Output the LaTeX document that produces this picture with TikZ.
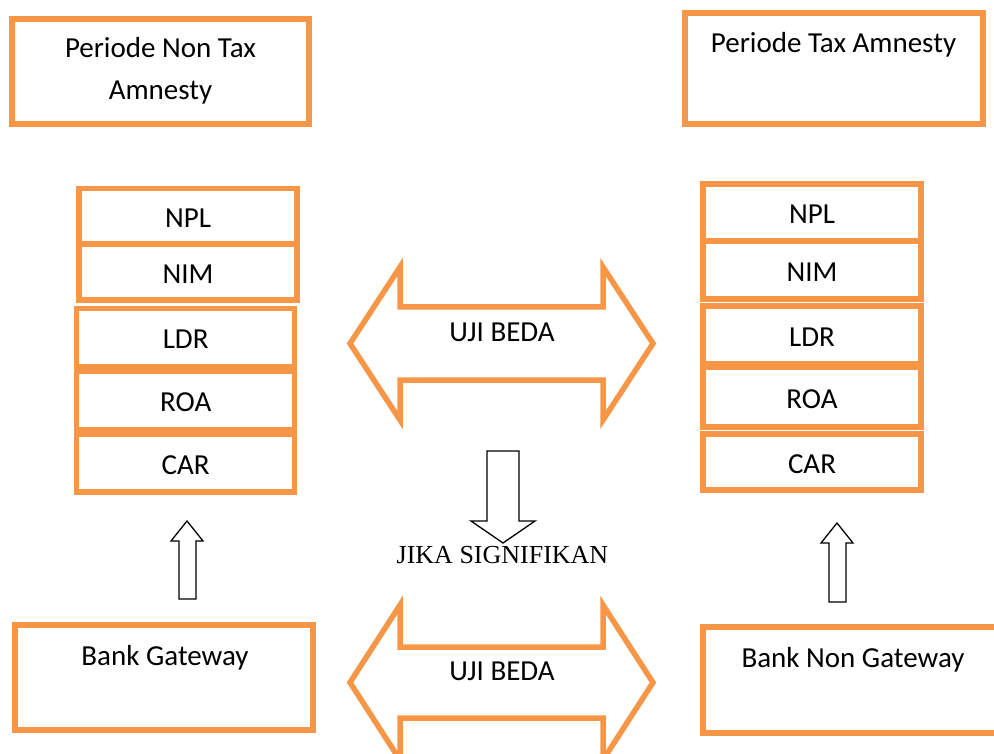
\documentclass[tikz,border=0pt]{standalone}
\usepackage{fontspec}
\setmainfont{Carlito}
\newfontfamily\jikafont{Liberation Serif}
\usepackage{tikz}
\usetikzlibrary{positioning,calc}
\definecolor{taxorange}{HTML}{F79646}

\begin{document}
\begin{tikzpicture}[x=1pt,y=-1pt,
  box/.style={draw=taxorange,line width=5.5pt,inner sep=0pt,outer sep=0pt,font=\fontsize{29}{42}\selectfont,
    text height=22.7pt,text depth=0pt},
  lbl/.style={font=\fontsize{29}{42}\selectfont,inner sep=0pt,anchor=base},
  bigarrow/.style={draw=taxorange,line width=5.5pt,fill=white},
  blockarrow/.style={draw=black,line width=1.3pt,fill=white}]
% page frame; lower double arrow and right bottom box run past it
\useasboundingbox (0,0) rectangle (994,754);
\clip (0,0) rectangle (994,754);
% period boxes
\node[box,minimum width=297,minimum height=105] (nontax) at (160.5,71.5) {};
\node[lbl,align=center] (nontaxtxt) at (160.5,100) {Periode Non Tax\\Amnesty};
\node[box,minimum width=298,minimum height=111] (tax) at (834,68.5) {};
\node[lbl] (taxtxt) at (833.5,53) {Periode Tax Amnesty};
% ratio stacks
\foreach \nm/\xc/\yc/\h in {NPL/188/216/55,NIM/188/272/56,LDR/185.7/337.5/58,ROA/185.7/400/58.5,CAR/185.7/463/58}
  \node[box,minimum width=218,minimum height=\h] (l\nm) at (\xc,\yc) {\nm};
\foreach \nm/\yc/\h in {NPL/212.3/56.7,NIM/270/58,LDR/335/57.5,ROA/397/60,CAR/462/56}
  \node[box,minimum width=218,minimum height=\h] (r\nm) at (812,\yc) {\nm};
% uji beda arrows
\draw[bigarrow] (350,343.5) -- (400,267) -- (400,307) -- (603,307) -- (603,267) -- (653,343.5)
  -- (603,420) -- (603,380) -- (400,380) -- (400,420) -- cycle;
\node[lbl] (ujitop) at (502,341.5) {UJI BEDA};
\draw[bigarrow] (350,682.5) -- (400,605) -- (400,647) -- (603,647) -- (603,605) -- (653,682.5)
  -- (603,760) -- (603,718) -- (400,718) -- (400,760) -- cycle;
\node[lbl] (ujibot) at (502,680) {UJI BEDA};
% jika signifikan
\draw[blockarrow] (487,451) -- (519,451) -- (519,521) -- (535,521) -- (503,543) -- (471,521) -- (487,521) -- cycle;
\node[inner sep=0pt,anchor=base,font=\jikafont\fontsize{26}{30}\selectfont] (jika) at (502.5,563) {JIKA SIGNIFIKAN};
% up arrows from bank groups
\draw[blockarrow] (179,599) -- (179,541) -- (171,541) -- (187,521) -- (203,541) -- (196,541) -- (196,599) -- cycle;
\draw[blockarrow] (829,602) -- (829,543) -- (821,543) -- (837,523) -- (853,543) -- (846,543) -- (846,602) -- cycle;
% bank boxes
\node[box,minimum width=298,minimum height=105] (gw) at (164,677.5) {};
\node[lbl] (gwtxt) at (165,665) {Bank Gateway};
\node[box,minimum width=298,minimum height=106] (ngw) at (852,680) {};
\node[lbl] (ngwtxt) at (853,667) {Bank Non Gateway};
\end{tikzpicture}
\end{document}
